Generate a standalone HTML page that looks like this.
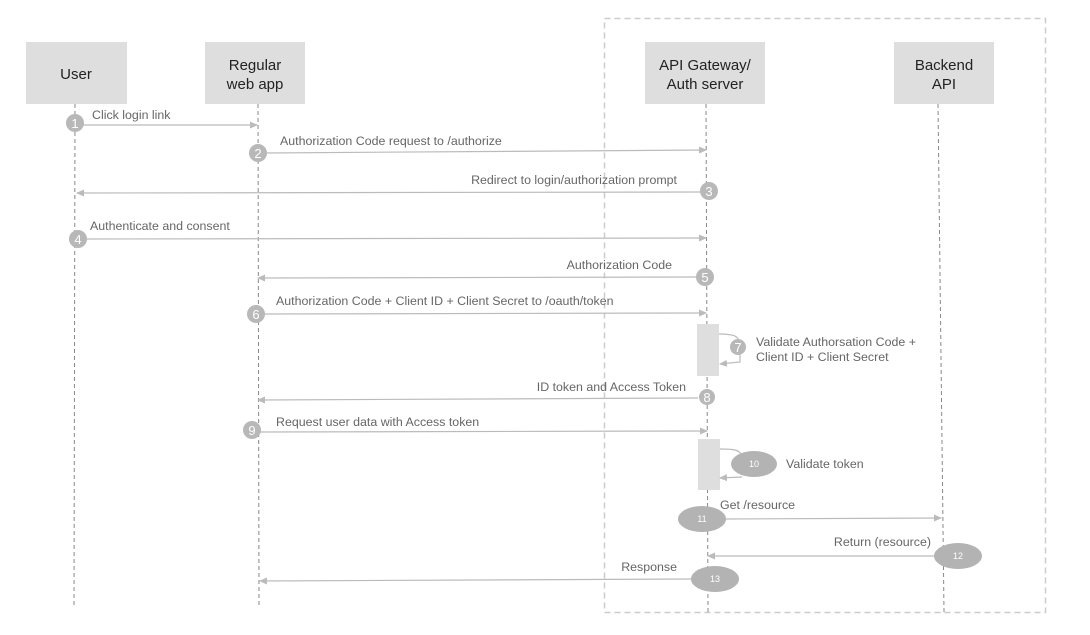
<!DOCTYPE html>
<html><head><meta charset="utf-8"><style>
html,body{margin:0;padding:0;background:#fff;}
svg{display:block;font-family:"Liberation Sans",Arial,sans-serif;}
.lab{font-size:12.4px;fill:#666;}
.hd{font-size:15px;fill:#222;text-anchor:middle;}
.ln{stroke:#bbb;stroke-width:1.2;fill:none;}
.ll{stroke:#888;stroke-width:1;stroke-dasharray:4,3;}
.num{font-size:13px;fill:#fff;text-anchor:middle;}
.nums{font-size:9px;fill:#fff;text-anchor:middle;}
</style></head><body>
<svg width="1090" height="635" viewBox="0 0 1090 635">
<defs><marker id="a" markerWidth="8" markerHeight="8" refX="7" refY="4" orient="auto" markerUnits="userSpaceOnUse"><path d="M0,0.5 L8,4 L0,7.5z" fill="#bbb"/></marker></defs>
<rect x="604.5" y="18.5" width="441" height="594" fill="none" stroke="#ccc" stroke-width="1.5" stroke-dasharray="6,4"/>
<line class="ll" x1="75" y1="104" x2="74" y2="605"/>
<line class="ll" x1="258" y1="104" x2="259" y2="605"/>
<line class="ll" x1="706" y1="104" x2="708" y2="612"/>
<line class="ll" x1="938" y1="104" x2="944" y2="612"/>
<rect x="26" y="42" width="101" height="62" fill="#dedede"/>
<rect x="205" y="42" width="100" height="62" fill="#dedede"/>
<rect x="645" y="42" width="120" height="62" fill="#dedede"/>
<rect x="894" y="42" width="100" height="62" fill="#dedede"/>
<text class="hd" x="76" y="79">User</text>
<text class="hd" x="255" y="70">Regular</text><text class="hd" x="255" y="89">web app</text>
<text class="hd" x="705" y="70">API Gateway/</text><text class="hd" x="705" y="89">Auth server</text>
<text class="hd" x="944" y="70">Backend</text><text class="hd" x="944" y="89">API</text>
<rect x="697" y="324" width="22" height="52" fill="#dedede"/>
<rect x="698" y="439" width="22" height="51" fill="#dedede"/>
<line class="ln" x1="82" y1="125" x2="257" y2="125" marker-end="url(#a)"/>
<line class="ln" x1="265" y1="153" x2="706" y2="150" marker-end="url(#a)"/>
<line class="ln" x1="700" y1="192" x2="77" y2="193" marker-end="url(#a)"/>
<line class="ln" x1="86" y1="239" x2="706" y2="238" marker-end="url(#a)"/>
<line class="ln" x1="696" y1="277" x2="258" y2="278" marker-end="url(#a)"/>
<line class="ln" x1="264" y1="314" x2="706" y2="313" marker-end="url(#a)"/>
<path class="ln" d="M719,334 C735,334 740,336 740,347 L740,362 L720,364" marker-end="url(#a)"/>
<line class="ln" x1="698" y1="398" x2="258" y2="400" marker-end="url(#a)"/>
<line class="ln" x1="260" y1="432" x2="707" y2="431" marker-end="url(#a)"/>
<path class="ln" d="M720,449 C735,449 740,450 742,456 M742,477 L720,478" marker-end="url(#a)"/>
<line class="ln" x1="726" y1="519" x2="941" y2="518" marker-end="url(#a)"/>
<line class="ln" x1="934" y1="556" x2="708" y2="556" marker-end="url(#a)"/>
<line class="ln" x1="692" y1="579" x2="260" y2="581" marker-end="url(#a)"/>
<g fill="#b8b8b8">
<circle cx="75" cy="123" r="9"/><circle cx="258" cy="153" r="9"/><circle cx="709" cy="191" r="9"/>
<circle cx="78" cy="239" r="9"/><circle cx="705" cy="277" r="9"/><circle cx="256" cy="314" r="9"/>
<circle cx="738" cy="347" r="8"/><circle cx="707" cy="397" r="8"/><circle cx="252" cy="430" r="9"/>
</g>
<g fill="#b3b3b3">
<ellipse cx="754" cy="464" rx="23" ry="13"/><ellipse cx="702" cy="519" rx="24" ry="13"/>
<ellipse cx="958" cy="556" rx="24" ry="13"/><ellipse cx="715" cy="579" rx="24" ry="13"/>
</g>
<text class="num" x="75" y="128">1</text><text class="num" x="258" y="158">2</text><text class="num" x="709" y="196">3</text>
<text class="num" x="78" y="244">4</text><text class="num" x="705" y="282">5</text><text class="num" x="256" y="319">6</text>
<text class="num" x="738" y="352">7</text><text class="num" x="707" y="402">8</text><text class="num" x="252" y="435">9</text>
<text class="nums" x="754" y="467">10</text><text class="nums" x="702" y="522">11</text>
<text class="nums" x="958" y="559">12</text><text class="nums" x="715" y="582">13</text>
<text class="lab" x="92" y="119">Click login link</text>
<text class="lab" x="280" y="145">Authorization Code request to /authorize</text>
<text class="lab" x="677" y="184" text-anchor="end">Redirect to login/authorization prompt</text>
<text class="lab" x="90" y="230">Authenticate and consent</text>
<text class="lab" x="672" y="269" text-anchor="end">Authorization Code</text>
<text class="lab" x="276" y="305">Authorization Code + Client ID + Client Secret to /oauth/token</text>
<text class="lab" x="756" y="346">Validate Authorsation Code +</text>
<text class="lab" x="756" y="361">Client ID + Client Secret</text>
<text class="lab" x="686" y="391" text-anchor="end">ID token and Access Token</text>
<text class="lab" x="276" y="426">Request user data with Access token</text>
<text class="lab" x="786" y="468">Validate token</text>
<text class="lab" x="720" y="509">Get /resource</text>
<text class="lab" x="931" y="546" text-anchor="end">Return (resource)</text>
<text class="lab" x="677" y="571" text-anchor="end">Response</text>
</svg>
</body></html>
